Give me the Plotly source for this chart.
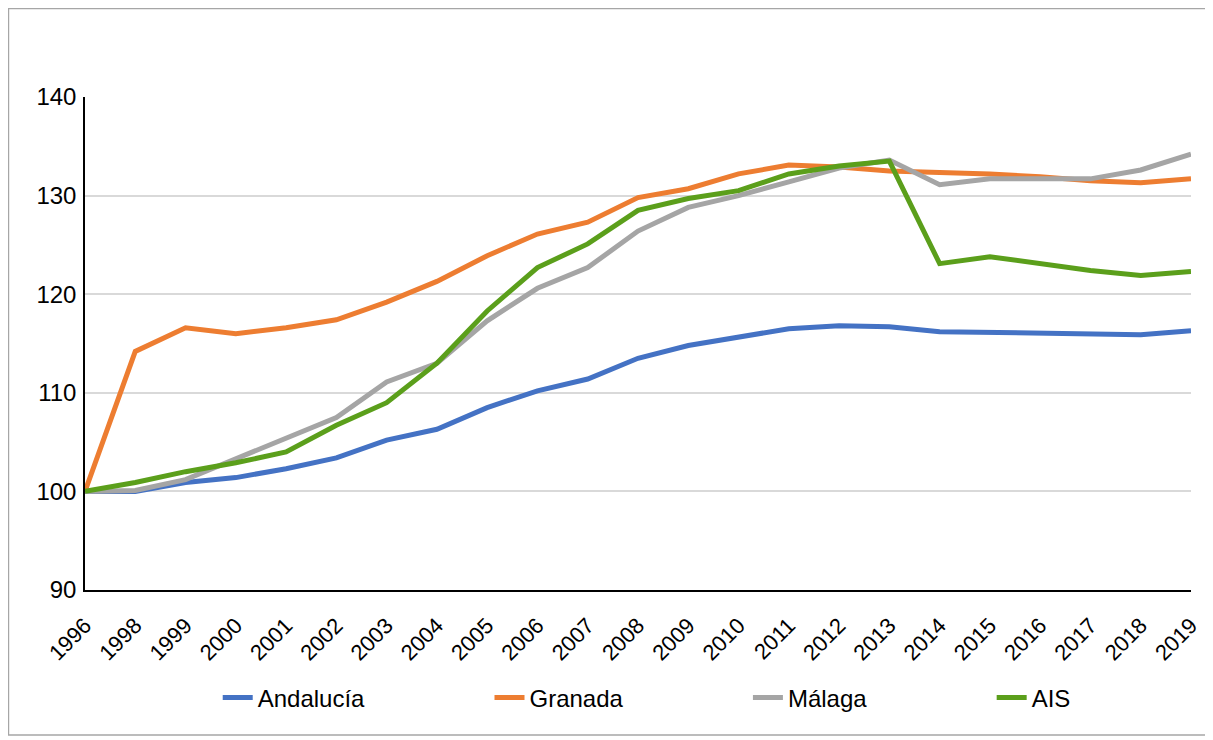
import plotly.graph_objects as go

# Años (1997 no aparece en la serie original)
anios = ['1996', '1998', '1999', '2000', '2001', '2002', '2003', '2004', '2005', '2006', '2007',
         '2008', '2009', '2010', '2011', '2012', '2013', '2014', '2015', '2016', '2017', '2018', '2019']

andalucia = [100, 100, 100.9, 101.4, 102.3, 103.4, 105.2, 106.3, 108.5, 110.2, 111.4,
             113.5, 114.8, 115.7, 116.5, 116.8, 116.7, 116.2, 116.1, 116.0, 115.9, 115.9, 116.3]
granada = [100, 114.2, 116.6, 116.0, 116.6, 117.4, 119.2, 121.3, 123.9, 126.1, 127.3,
           129.8, 130.7, 132.2, 133.1, 132.9, 132.5, 132.4, 132.2, 131.9, 131.5, 131.3, 131.7]
malaga = [100, 100.1, 101.2, 103.3, 105.3, 107.5, 111.1, 113.0, 117.3, 120.6, 122.7,
          126.4, 128.8, 130.0, 131.4, 132.8, 133.6, 131.1, 131.7, 131.7, 131.7, 132.6, 134.2]
ais = [100, 100.9, 102.0, 102.9, 104.0, 106.7, 109.0, 113.0, 118.3, 122.7, 125.1,
       128.5, 129.7, 130.5, 132.2, 133.0, 133.5, 123.1, 123.8, 123.1, 122.4, 121.9, 122.3]

series = [
    ('Andalucía', andalucia, '#4472C4'),
    ('Granada', granada, '#ED7D31'),
    ('Málaga', malaga, '#A5A5A5'),
    ('AIS', ais, '#5B9F1B'),
]

# espacio extra tras cada nombre en la leyenda (como en el original)
relleno = '\u00a0' * 18

fig = go.Figure()
for nombre, valores, color in series:
    fig.add_trace(go.Scatter(x=anios, y=valores, name=nombre + relleno, mode='lines',
                             line=dict(color=color, width=5)))

# la página añade 8px de margen, se compensa en los márgenes
fig.update_layout(
    width=1213, height=740,
    margin=dict(l=77, r=30, t=89, b=158),
    plot_bgcolor='white',
    paper_bgcolor='white',
    font=dict(family='Liberation Sans, Arial, sans-serif', size=23, color='black'),
    showlegend=True,
    legend=dict(orientation='h', x=0.120, xanchor='left', y=-0.219, yanchor='middle',
                bgcolor='rgba(0,0,0,0)', font=dict(size=24)),
)

fig.update_xaxes(type='category', range=[0, len(anios) - 1], tickangle=-45,
                 showline=True, linecolor='black', linewidth=2, showgrid=False,
                 ticks='', tickfont=dict(size=22), ticklabelstandoff=12)
fig.update_yaxes(range=[90, 140], dtick=10, showline=True, linecolor='black', linewidth=1.5,
                 showgrid=True, gridcolor='#D9D9D9', gridwidth=1.5, zeroline=False,
                 ticks='', tickfont=dict(size=24), ticklabelstandoff=2)

# Marco exterior del gráfico
fig.add_shape(type='rect', xref='paper', yref='paper',
              x0=-0.0692, x1=1.0172, y0=-0.294, y1=1.1795,
              line=dict(color='#A6A6A6', width=1.5))

fig.write_html('out.html')
